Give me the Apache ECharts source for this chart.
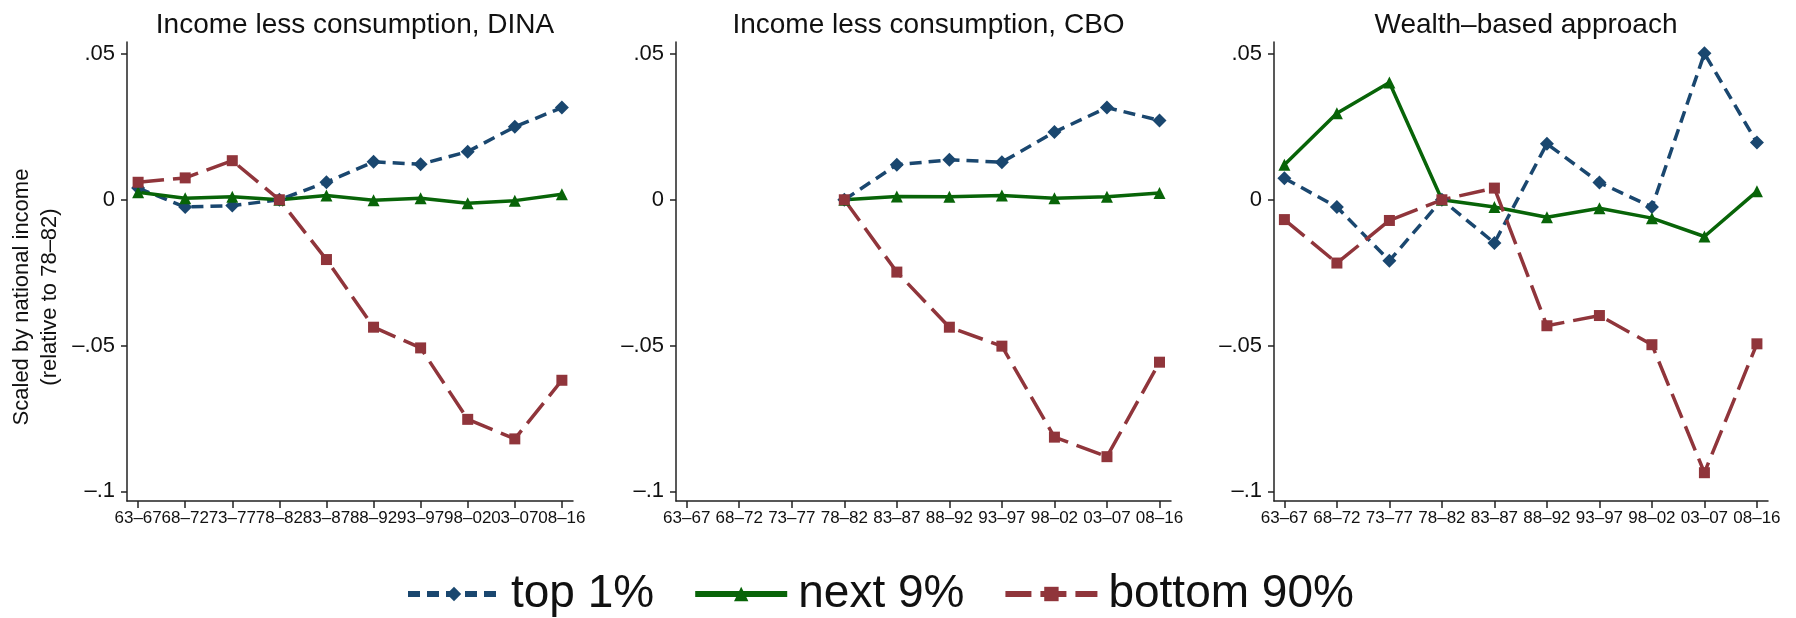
<!DOCTYPE html>
<html>
<head>
<meta charset="utf-8">
<script src="https://cdn.jsdelivr.net/npm/echarts@6/dist/echarts.min.js"></script>
<style>
  html, body { margin: 0; padding: 0; background: #fff; }
  #chart { width: 1796px; height: 618px; }
</style>
</head>
<body>
<div id="chart"></div>
<script>
// periods on the x axis
var categories = ['63–67', '68–72', '73–77', '78–82', '83–87', '88–92', '93–97', '98–02', '03–07', '08–16'];

// y ticks
var yTicks = [-0.1, -0.05, 0, 0.05];
var yTickLabels = ['–.1', '–.05', '0', '.05'];

// Income less consumption, DINA
var dinaTop1 = [0.004, -0.0025, -0.002, 0, 0.006, 0.013, 0.0122, 0.0165, 0.025, 0.0316];
var dinaNext9 = [0.0026, 0.0005, 0.001, 0, 0.0015, -0.0002, 0.0005, -0.0012, -0.0003, 0.0019];
var dinaBottom90 = [0.006, 0.0075, 0.0134, 0, -0.0205, -0.0437, -0.0508, -0.0753, -0.082, -0.0619];

// Income less consumption, CBO (starts at 78-82)
var cboTop1 = [null, null, null, 0, 0.012, 0.0137, 0.0129, 0.0232, 0.0316, 0.0272];
var cboNext9 = [null, null, null, 0, 0.0011, 0.001, 0.0015, 0.0005, 0.001, 0.0023];
var cboBottom90 = [null, null, null, 0, -0.0248, -0.0437, -0.0502, -0.0814, -0.0881, -0.0557];

// Wealth-based approach
var wealthTop1 = [0.0074, -0.0025, -0.0209, 0, -0.0148, 0.0192, 0.0059, -0.0025, 0.0502, 0.0196];
var wealthNext9 = [0.012, 0.0297, 0.0402, 0, -0.0025, -0.006, -0.0029, -0.0063, -0.0126, 0.0029];
var wealthBottom90 = [-0.0068, -0.0217, -0.0071, 0, 0.004, -0.0432, -0.0397, -0.0497, -0.0936, -0.0494];

var titles = ['Income less consumption, DINA', 'Income less consumption, CBO', 'Wealth–based approach'];
var panels = [
  [dinaTop1, dinaNext9, dinaBottom90],
  [cboTop1, cboNext9, cboBottom90],
  [wealthTop1, wealthNext9, wealthBottom90]
];

var FONT = '"Liberation Sans", Arial, sans-serif';
var BLUE = '#1a476f', GREEN = '#086408', RED = '#90353b';

// pixel layout of the three plot regions
var grids = [
  { left: 127, width: 446, top: 42, height: 459 },
  { left: 676, width: 495, top: 42, height: 459 },
  { left: 1274, width: 494, top: 42, height: 459 }
];
var xRange = [[-0.236, 9.236], [-0.204, 9.219], [-0.198, 9.211]];

function toPairs(arr) {
  var out = [];
  arr.forEach(function (v, i) { if (v !== null) out.push([i, v]); });
  return out;
}

var idx = categories.map(function (c, i) { return i; });

var xAxes = [], yAxes = [], series = [], titleOpts = [];
grids.forEach(function (g, k) {
  titleOpts.push({
    text: titles[k],
    left: g.left + g.width / 2,
    top: 6,
    textAlign: 'center',
    textStyle: { fontFamily: FONT, fontSize: 28, fontWeight: 'normal', color: '#111' }
  });
  xAxes.push({
    type: 'value', gridIndex: k, min: xRange[k][0], max: xRange[k][1],
    axisLine: { show: true, onZero: false, lineStyle: { color: '#222', width: 1.5 } },
    axisTick: { show: true, length: 7, customValues: idx, lineStyle: { color: '#222', width: 1.5 } },
    axisLabel: {
      customValues: idx, margin: 9, color: '#111', fontFamily: FONT, fontSize: 17,
      formatter: function (v) { return categories[Math.round(v)]; }
    },
    splitLine: { show: false }
  });
  yAxes.push({
    type: 'value', gridIndex: k, min: -0.1033, max: 0.0541,
    axisLine: { show: true, onZero: false, lineStyle: { color: '#222', width: 1.5 } },
    axisTick: { show: true, length: 6, customValues: yTicks, lineStyle: { color: '#222', width: 1.5 } },
    axisLabel: {
      customValues: yTicks, margin: 12, color: '#111', fontFamily: FONT, fontSize: 22,
      formatter: function (v) {
        for (var i = 0; i < yTicks.length; i++) if (Math.abs(yTicks[i] - v) < 1e-6) return yTickLabels[i];
        return '';
      }
    },
    splitLine: { show: false }
  });
  var s = panels[k];
  series.push({
    name: 'top 1%', type: 'line', xAxisIndex: k, yAxisIndex: k, data: toPairs(s[0]),
    symbol: 'diamond', symbolSize: 14, itemStyle: { color: BLUE },
    lineStyle: { color: BLUE, width: 3.5, type: [12, 7] }
  });
  series.push({
    name: 'next 9%', type: 'line', xAxisIndex: k, yAxisIndex: k, data: toPairs(s[1]),
    symbol: 'triangle', symbolSize: 12, itemStyle: { color: GREEN },
    lineStyle: { color: GREEN, width: 3.5, type: 'solid' }
  });
  series.push({
    name: 'bottom 90%', type: 'line', xAxisIndex: k, yAxisIndex: k, data: toPairs(s[2]),
    symbol: 'rect', symbolSize: 11, itemStyle: { color: RED },
    lineStyle: { color: RED, width: 3.5, type: [26, 9] }
  });
});

var chart = echarts.init(document.getElementById('chart'));
chart.setOption({
  animation: false,
  backgroundColor: '#fff',
  title: titleOpts,
  grid: grids,
  xAxis: xAxes,
  yAxis: yAxes,
  series: series,
  legend: {
    data: ['top 1%', 'next 9%', 'bottom 90%'],
    left: 400, top: 566,
    itemWidth: 92, itemHeight: 18, itemGap: 38,
    lineStyle: { width: 6 },
    textStyle: { fontFamily: FONT, fontSize: 46, color: '#111', padding: [0, 0, 0, 6] }
  },
  graphic: [{
    type: 'text',
    x: 36, y: 297,
    rotation: Math.PI / 2,
    style: {
      text: 'Scaled by national income\n(relative to 78–82)',
      font: '22px ' + FONT,
      fill: '#111',
      align: 'center',
      verticalAlign: 'middle',
      lineHeight: 28
    }
  }]
});
</script>
</body>
</html>
